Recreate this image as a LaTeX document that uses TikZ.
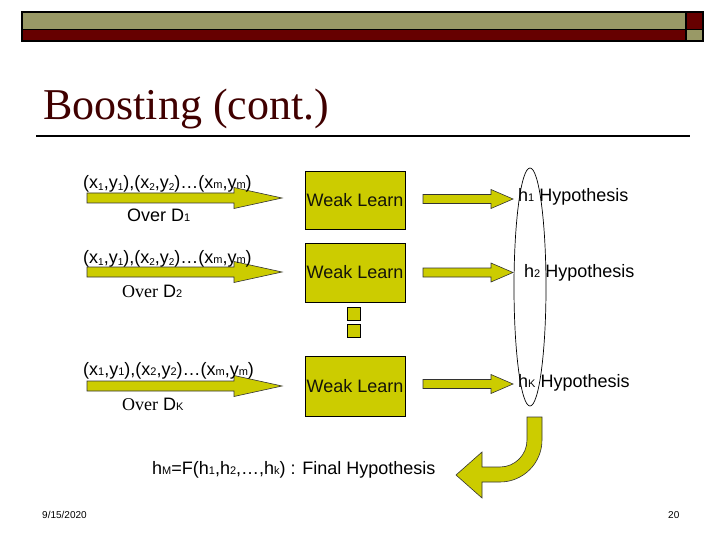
\documentclass[tikz,border=0pt]{standalone}
\usepackage{fontspec}
\setmainfont{Liberation Sans}
\newfontfamily\tms{Liberation Serif}
\usetikzlibrary{shapes.geometric}
\definecolor{olivebar}{RGB}{153,153,102}
\definecolor{darkred}{RGB}{102,0,0}
\definecolor{ylw}{RGB}{204,204,0}
\definecolor{titlecol}{RGB}{64,0,0}
\definecolor{ink}{RGB}{20,20,10}
\newcommand\sbl[1]{\raisebox{-2pt}{\fontsize{10}{10}\selectfont #1}}
\newcommand\sml[1]{{\fontsize{11}{11}\selectfont #1}}
\newcommand\barrow[6]{%
  \filldraw[arrowst] (#1,#3-#4) -- (#2-#6,#3-#4) -- (#2-#6,#3-#5) -- (#2,#3)
    -- (#2-#6,#3+#5) -- (#2-#6,#3+#4) -- (#1,#3+#4) -- cycle;}
\begin{document}
\begin{tikzpicture}[x=1pt,y=-1pt,
  arrowst/.style={fill=ylw,draw=black!80,line width=0.6pt},
  txt/.style={anchor=base west,inner sep=0pt,text=black,font=\fontsize{18}{21}\selectfont},
  wlbox/.style={draw=black,line width=0.8pt,fill=ylw,minimum width=100pt,inner sep=0pt},
  wltext/.style={inner sep=0pt,text=ink,font=\fontsize{18}{21}\selectfont},
  sq/.style={draw=black,line width=0.8pt,fill=ylw,minimum size=13pt,inner sep=0pt}]
\useasboundingbox (0,0) rectangle (720,540);
% header
\filldraw[fill=olivebar,draw=black,line width=1.2pt] (22,12) rectangle (686,29.5);
\filldraw[fill=darkred,draw=black,line width=1.2pt] (22,29.5) rectangle (686,41);
\filldraw[fill=darkred,draw=black,line width=1.2pt] (686,12) rectangle (703,29.5);
\filldraw[fill=olivebar,draw=black,line width=1.2pt] (686,29.5) rectangle (703,41);
% title
\node[anchor=base west,inner sep=0pt,text=titlecol,font=\tms\fontsize{44}{48}\selectfont] (title) at (43,120) {Boosting (cont.)};
\draw[line width=2pt] (36,136) -- (690,136);
% left arrows
\barrow{87}{282}{198}{5}{10.5}{48}
\barrow{87}{282}{272}{5}{10.5}{48}
\barrow{87}{282}{386}{5}{10.5}{48}
% row texts
\node[txt] (s1) at (83,189) {(x\sbl{1},y\sbl{1}),(x\sbl{2},y\sbl{2})\dots(x\sml{m},y\sml{m})};
\node[txt] (o1) at (127,222) {Over D\sml{1}};
\node[txt] (s2) at (83,263) {(x\sbl{1},y\sbl{1}),(x\sbl{2},y\sbl{2})\dots(x\sml{m},y\sml{m})};
\node[txt] (o2) at (122,297) {{\tms Over} D\sml{2}};
\node[txt] (s3) at (83,375) {(x\sml{1},y\sml{1}),(x\sml{2},y\sml{2})\dots(x\sml{m},y\sml{m})};
\node[txt] (o3) at (122,410) {{\tms Over} D\sml{K}};
% weak learn boxes
\node[wlbox,minimum height=58pt] (w1) at (355,200) {};
\node[wlbox,minimum height=59pt] (w2) at (355,272.5) {};
\node[wlbox,minimum height=60pt] (w3) at (355,386) {};
\node[wltext] (t1) at (w1) {Weak Learn};
\node[wltext] (t2) at (w2) {Weak Learn};
\node[wltext] (t3) at (w3) {Weak Learn};
\node[sq] (q1) at (353.5,313.5) {};
\node[sq] (q2) at (353.5,330.5) {};
% right arrows
\barrow{423}{513}{199}{4.5}{9.5}{22}
\barrow{423}{513}{272.5}{4.5}{9.5}{22}
\barrow{423}{513}{384}{4.5}{9.5}{22}
% hypotheses
\node[txt] (h1) at (518,202) {h\sml{1} Hypothesis};
\node[txt] (h2) at (524,277) {h\sml{2} Hypothesis};
\node[txt] (hk) at (518,387) {h\sml{K} Hypothesis};
\node[draw=black,line width=0.7pt,ellipse,minimum width=32pt,minimum height=238pt,inner sep=0pt] (ell) at (530,287) {};
% hook arrow
\filldraw[arrowst] (542,417) -- (542,440) arc[start angle=0,end angle=90,radius=42] -- (482,482)
  -- (482,498) -- (456,475) -- (482,452) -- (482,467) -- (500,467)
  arc[start angle=90,end angle=0,radius=27] -- (527,417) -- cycle;
% final
\node[txt] (fin) at (152,474) {h\sml{M}=F(h\sml{1},h\sml{2},\dots,h\sml{k}) : Final Hypothesis};
\node[anchor=base west,inner sep=0pt,text=black,font=\fontsize{10}{12}\selectfont] (date) at (42,518) {9/15/2020};
\node[anchor=base west,inner sep=0pt,text=black,font=\fontsize{10}{12}\selectfont] (pg) at (668,518) {20};
\end{tikzpicture}
\end{document}
